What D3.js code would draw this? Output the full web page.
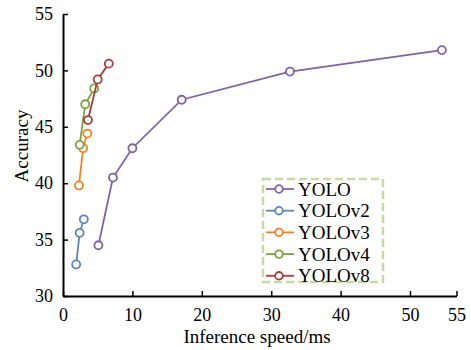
<!DOCTYPE html>
<html>
<head>
<meta charset="utf-8">
<script src="https://cdn.jsdelivr.net/npm/d3@7"></script>
<style>
  body { margin: 0; background: #fff; }
</style>
</head>
<body>
<div id="vis"></div>
<script>
// series data: [speed ms, accuracy]
var seriesNames = ['YOLO', 'YOLOv2', 'YOLOv3', 'YOLOv4', 'YOLOv8'];
var yoloPts   = [[5.1, 34.5], [7.2, 40.5], [10.0, 43.1], [17.1, 47.4], [32.7, 49.9], [54.6, 51.8]];
var yolov2Pts = [[1.9, 32.8], [2.4, 35.6], [3.0, 36.8]];
var yolov3Pts = [[2.3, 39.8], [2.9, 43.1], [3.5, 44.4]];
var yolov4Pts = [[2.4, 43.4], [3.2, 47.0], [4.5, 48.4]];
var yolov8Pts = [[3.6, 45.6], [5.0, 49.2], [6.6, 50.6]];
var colors = ['#7f63a8', '#5b86c0', '#f5821f', '#7ea13f', '#a3403b'];

var xTickVals = [0, 10, 20, 30, 40, 50, 56.7];
var xTickText = ['0', '10', '20', '30', '40', '50', '55'];
var yTickVals = [30, 35, 40, 45, 50, 55];

var FONT = '"Liberation Serif", serif';

var width = 471, height = 350;
var margin = { top: 14, left: 63, bottom: 54, right: 15 };

var svg = d3.select('#vis').append('svg')
  .attr('width', width)
  .attr('height', height);

var x = d3.scaleLinear().domain([0, 56.7]).range([margin.left, width - margin.right + 0.5]);
var y = d3.scaleLinear().domain([30, 55]).range([height - margin.bottom, margin.top]);

// axes (ticks point inward)
var xAxis = d3.axisBottom(x)
  .tickValues(xTickVals)
  .tickFormat(function(d, i) { return xTickText[i]; })
  .tickSizeInner(-5).tickSizeOuter(0).tickPadding(10);
var yAxis = d3.axisLeft(y)
  .tickValues(yTickVals)
  .tickSizeInner(-5).tickSizeOuter(0).tickPadding(10);

var gx = svg.append('g')
  .attr('transform', 'translate(0,' + y(30) + ')')
  .call(xAxis);
var gy = svg.append('g')
  .attr('transform', 'translate(' + x(0) + ',0)')
  .call(yAxis);

[gx, gy].forEach(function(g) {
  g.attr('font-family', null);
  g.select('.domain').attr('stroke', '#000').attr('stroke-width', 2);
  g.selectAll('.tick line').attr('stroke', '#000').attr('stroke-width', 1.5);
  g.selectAll('.tick text')
    .style('font-family', FONT)
    .style('font-size', '18px')
    .attr('fill', '#000');
});
gx.selectAll('.tick text').attr('dy', '0.85em');

// axis titles
svg.append('text')
  .attr('x', 257).attr('y', 343)
  .attr('text-anchor', 'middle')
  .style('font-family', FONT)
  .style('font-size', '19px')
  .text('Inference speed/ms');

svg.append('text')
  .attr('transform', 'translate(28,146) rotate(-90)')
  .attr('text-anchor', 'middle')
  .style('font-family', FONT)
  .style('font-size', '19px')
  .text('Accuracy');

// lines and markers
var allSeries = [yoloPts, yolov2Pts, yolov3Pts, yolov4Pts, yolov8Pts];
var line = d3.line()
  .x(function(d) { return x(d[0]); })
  .y(function(d) { return y(d[1]); });

allSeries.forEach(function(pts, i) {
  var g = svg.append('g');
  g.append('path')
    .datum(pts)
    .attr('d', line)
    .attr('fill', 'none')
    .attr('stroke', colors[i])
    .attr('stroke-width', 1.8);
  g.selectAll('circle')
    .data(pts)
    .enter()
    .append('circle')
    .attr('cx', function(d) { return x(d[0]); })
    .attr('cy', function(d) { return y(d[1]); })
    .attr('r', 4)
    .attr('fill', '#fff')
    .attr('stroke', colors[i])
    .attr('stroke-width', 1.8);
});

// legend
var lg = svg.append('g').attr('transform', 'translate(263,179)');
lg.append('rect')
  .attr('width', 120).attr('height', 103)
  .attr('fill', '#fff')
  .attr('stroke', '#c6dba4')
  .attr('stroke-width', 2.5)
  .attr('stroke-dasharray', '8,4');

var items = lg.selectAll('.item')
  .data(seriesNames)
  .enter()
  .append('g')
  .attr('transform', function(d, i) { return 'translate(0,' + (10 + i * 21.7) + ')'; });

items.append('line')
  .attr('x1', 3).attr('x2', 31)
  .attr('stroke', function(d, i) { return colors[i]; })
  .attr('stroke-width', 1.8);
items.append('circle')
  .attr('cx', 16).attr('r', 3.8)
  .attr('fill', '#fff')
  .attr('stroke', function(d, i) { return colors[i]; })
  .attr('stroke-width', 1.8);
items.append('text')
  .attr('x', 35).attr('dy', '0.35em')
  .style('font-family', FONT)
  .style('font-size', '19px')
  .text(function(d) { return d; });
</script>
</body>
</html>
